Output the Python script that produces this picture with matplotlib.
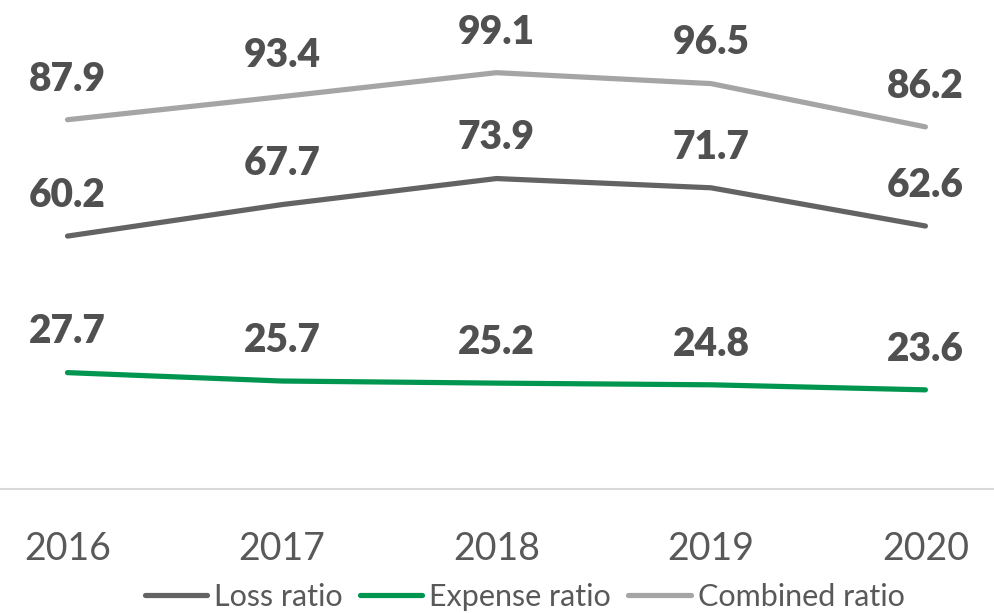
import matplotlib.pyplot as plt

years = ['2016', '2017', '2018', '2019', '2020']
loss_ratio = [60.2, 67.7, 73.9, 71.7, 62.6]
expense_ratio = [27.7, 25.7, 25.2, 24.8, 23.6]
combined_ratio = [87.9, 93.4, 99.1, 96.5, 86.2]

text_color = '#595959'
plt.rcParams['font.family'] = ['Lato', 'DejaVu Sans']

fig = plt.figure(figsize=(9.95, 6.13), dpi=100)
ax = fig.add_axes([0, 0.2023, 1, 0.7977])

x = list(range(len(years)))
series = [
    ('Loss ratio', loss_ratio, '#636363'),
    ('Expense ratio', expense_ratio, '#00964F'),
    ('Combined ratio', combined_ratio, '#A5A5A5'),
]
for name, vals, col in series:
    ax.plot(x, vals, color=col, lw=3.75, solid_capstyle='round',
            solid_joinstyle='round', label=name)
    # valeurs au-dessus des points
    for xi, v in zip(x, vals):
        ax.annotate(f'{v:.1f}', (xi, v), xytext=(0, 21), textcoords='offset points',
                    ha='center', va='baseline', fontsize=28, fontweight='heavy',
                    color='#505050')

ax.set_xlim(-0.3147, 4.3244)
ax.set_ylim(0, 116.4)
ax.set_xticks(x)
ax.set_xticklabels(years, fontsize=27, color=text_color)
ax.tick_params(axis='x', length=0, pad=30)
ax.set_yticks([])
for s in ['top', 'left', 'right']:
    ax.spines[s].set_visible(False)
ax.spines['bottom'].set_color('#D9D9D9')
ax.spines['bottom'].set_linewidth(1.5)

leg = fig.legend(loc='center', bbox_to_anchor=(524.5 / 995, 1 - 597 / 613), ncol=3,
                 frameon=False, fontsize=22, handlelength=2.05, handletextpad=0.23,
                 columnspacing=0.55, borderpad=0)
for t in leg.get_texts():
    t.set_color(text_color)

fig.savefig('out.png', dpi=100)
